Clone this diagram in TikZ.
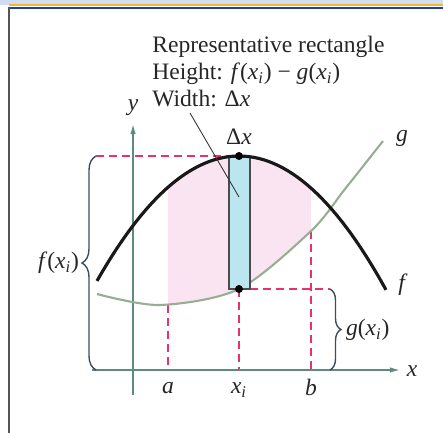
\documentclass[tikz,border=0pt]{standalone}
\usepackage{fontspec}
\setmainfont{Liberation Serif}
\usepackage{xcolor}
\definecolor{cInk}{HTML}{262626}
\definecolor{cAxis}{HTML}{5E8A80}
\definecolor{cDash}{HTML}{E6336B}
\definecolor{cShade}{HTML}{FBE4F2}
\definecolor{cRect}{HTML}{BCE6EF}
\definecolor{cBrace}{HTML}{3C4E5E}
\definecolor{cG}{HTML}{97AE94}
\definecolor{cFrame}{HTML}{555555}
\definecolor{cTopA}{HTML}{CFDDF3}
\definecolor{cTopB}{HTML}{F2B632}
\definecolor{cTopC}{HTML}{23409A}
\usepackage{tikz}
\usetikzlibrary{arrows.meta,decorations.pathreplacing,calc}
\tikzset{
  node-label/.style={font=\fontsize{13.4}{15.4}\selectfont,text=cInk,inner sep=1pt},
  curve-f/.style={draw=black!90,line width=1.8pt},
  curve-g/.style={draw=cG,line width=1.2pt},
  arrow-axis/.style={-{Latex[length=2mm,width=1.1mm]},draw=cAxis,line width=0.8pt},
  line-dash/.style={draw=cDash,line width=0.8pt,dash pattern=on 1.6mm off 1mm},
  brace-left/.style={draw=cBrace,line width=0.8pt,decorate,decoration={brace,amplitude=2.8mm}},
  brace-right/.style={draw=cBrace,line width=0.8pt,decorate,decoration={brace,amplitude=2.2mm}},
  rect-box/.style={draw=black!70,line width=0.8pt,fill=cRect},
  dot/.style={fill=black,circle,inner sep=0pt,minimum size=1.6mm},
  leader/.style={draw=black!80,line width=0.5pt},
}
\newcommand{\vx}{\textit{x}}
\newcommand{\xsubi}{\textit{x}\textsubscript{\textit{i}}}

\begin{document}
\begin{tikzpicture}[x=0.2mm,y=-0.2mm]
  \useasboundingbox (0,0) rectangle (443,433);
  % frame
  \fill[cTopA] (0,0) rectangle (443,4.5);
  \draw[cTopB,line width=0.4mm] (9,5.2) -- (443,5.2);
  \draw[cTopC,line width=0.4mm] (9,7.5) -- (443,7.5);
  \draw[cFrame,line width=0.4mm] (9,7) -- (9,433);

  % key points
  \coordinate (f-top) at (239,156);
  \coordinate (g-xi)  at (239,289);
  \coordinate (ax-a)  at (168,370);
  \coordinate (ax-xi) at (239,370);
  \coordinate (ax-b)  at (311,370);
  \coordinate (g-a)   at (168,305);
  \coordinate (g-b)   at (311,231);
  \coordinate (br-lt) at (96,156);
  \coordinate (br-lb) at (96,370);
  \coordinate (br-rt) at (330,289);
  \coordinate (br-rb) at (330,370);
  \coordinate (rc-nw) at (229,157);
  \coordinate (rc-se) at (250,289);
  \coordinate (rc-mid) at (239,197);
  \coordinate (lead-top) at (190,113);

  % shaded region between a and b
  \begin{scope}
    \clip (168,140) rectangle (311,320);
    \fill[cShade] plot[domain=97:386,samples=60] (\x,{156+0.0062*(\x-239)*(\x-239)})
      -- plot[smooth] coordinates {(383,141) (345,189) (311,231) (239,289) (160,305) (97,294)}
      -- cycle;
  \end{scope}

  % dashed guides
  \draw[line-dash] (br-lt) -- (rc-nw |- br-lt);
  \draw[line-dash] (rc-se) -- (br-rt);
  \draw[line-dash] (g-a) -- (ax-a);
  \draw[line-dash] (g-xi) -- (ax-xi);
  \draw[line-dash] (g-b) -- (ax-b);

  % axes
  \draw[arrow-axis] (92,370) -- (400,370);
  \draw[arrow-axis] (133,395) -- (133,124);

  % curves
  \draw[curve-g] plot[smooth] coordinates {(97,294) (160,305) (239,289) (311,231) (345,189) (383,141)};
  \draw[rect-box] (rc-nw) rectangle (rc-se);
  \draw[curve-f] plot[domain=97:386,samples=60] (\x,{156+0.0062*(\x-239)*(\x-239)});
  \node[dot] (dot-f) at (f-top) {};
  \node[dot] (dot-g) at (g-xi) {};

  % braces
  \draw[brace-left] (br-lb) -- (br-lt);
  \draw[brace-right] (br-rt) -- (br-rb);

  % labels
  \node[node-label,anchor=north west,align=left,inner sep=0pt] (note) at (152,36)
    {Representative rectangle\\Height: \textit{f}(\xsubi) − \textit{g}(\xsubi)\\Width: Δ\vx};
  \draw[leader] (lead-top) -- (rc-mid);
  \node[node-label,anchor=south] (lbl-dx) at (239,147) {Δ\vx};
  \node[node-label] (lbl-y) at (133,108) {\textit{y}};
  \node[node-label] (lbl-x) at (412,371) {\textit{x}};
  \node[node-label] (lbl-a) at (168,388) {\textit{a}};
  \node[node-label] (lbl-xi) at (239,390) {\xsubi};
  \node[node-label] (lbl-b) at (311,387) {\textit{b}};
  \node[node-label] (lbl-g) at (402,138) {\textit{g}};
  \node[node-label] (lbl-f) at (403,285) {\textit{f}};
  \node[node-label,anchor=east] (lbl-fxi) at (81,263) {\textit{f}(\xsubi)};
  \node[node-label,anchor=west] (lbl-gxi) at (344,330) {\textit{g}(\xsubi)};
\end{tikzpicture}
\end{document}
